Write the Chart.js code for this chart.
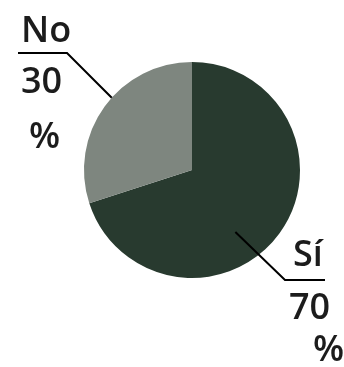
<!DOCTYPE html>
<html>
<head>
<meta charset="utf-8">
<script src="https://cdn.jsdelivr.net/npm/chart.js@4"></script>
<style>
  html, body { margin: 0; padding: 0; background: #fff; }
  #wrap { width: 344px; height: 367px; position: relative; }
</style>
</head>
<body>
<div id="wrap"><canvas id="pie"></canvas></div>
<script>
// ---- data ----
const categories = ['Sí', 'No'];
const values = [70, 30];
const valueLabels = ['70', '30'];
const colors = ['#283a2f', '#7e867f'];

// label layout: text lines, leader line (anchor given as angle offset from slice middle + radius factor)
const labelLayout = [
  { // Sí
    lines: [{ t: 'Sí', x: 293, y: 266 }, { t: valueLabels[0], x: 289, y: 319 }, { t: '%', x: 313, y: 361 }],
    anchorAngle: 19, anchorR: 0.7,
    elbow: [285, 280], end: [325, 280]
  },
  { // No
    lines: [{ t: 'No', x: 21, y: 42 }, { t: valueLabels[1], x: 21, y: 93 }, { t: '%', x: 29, y: 148 }],
    anchorAngle: 6, anchorR: 1.0,
    elbow: [67, 53], end: [18, 53]
  }
];

const calloutPlugin = {
  id: 'callouts',
  afterDraw(chart) {
    const ctx = chart.ctx;
    const arcs = chart.getDatasetMeta(0).data;
    ctx.save();
    ctx.strokeStyle = '#000';
    ctx.lineWidth = 2;
    ctx.fillStyle = '#1c1c1c';
    ctx.font = '600 36px "Open Sans", sans-serif';
    ctx.textBaseline = 'alphabetic';
    ctx.textAlign = 'left';
    labelLayout.forEach((lab, i) => {
      const a = arcs[i];
      const mid = (a.startAngle + a.endAngle) / 2 + lab.anchorAngle * Math.PI / 180;
      const ax = a.x + Math.cos(mid) * a.outerRadius * lab.anchorR;
      const ay = a.y + Math.sin(mid) * a.outerRadius * lab.anchorR;
      ctx.beginPath();
      ctx.moveTo(ax, ay);
      ctx.lineTo(lab.elbow[0], lab.elbow[1]);
      ctx.lineTo(lab.end[0], lab.end[1]);
      ctx.stroke();
      lab.lines.forEach(l => ctx.fillText(l.t, l.x, l.y));
    });
    ctx.restore();
  }
};

new Chart(document.getElementById('pie'), {
  type: 'pie',
  data: {
    labels: categories,
    datasets: [{
      data: values,
      backgroundColor: colors,
      borderWidth: 0
    }]
  },
  options: {
    responsive: true,
    maintainAspectRatio: false,
    animation: false,
    layout: { padding: { left: 84, right: 44, top: 62, bottom: 89 } },
    plugins: {
      legend: { display: false },
      tooltip: { enabled: false }
    }
  },
  plugins: [calloutPlugin]
});
</script>
</body>
</html>
